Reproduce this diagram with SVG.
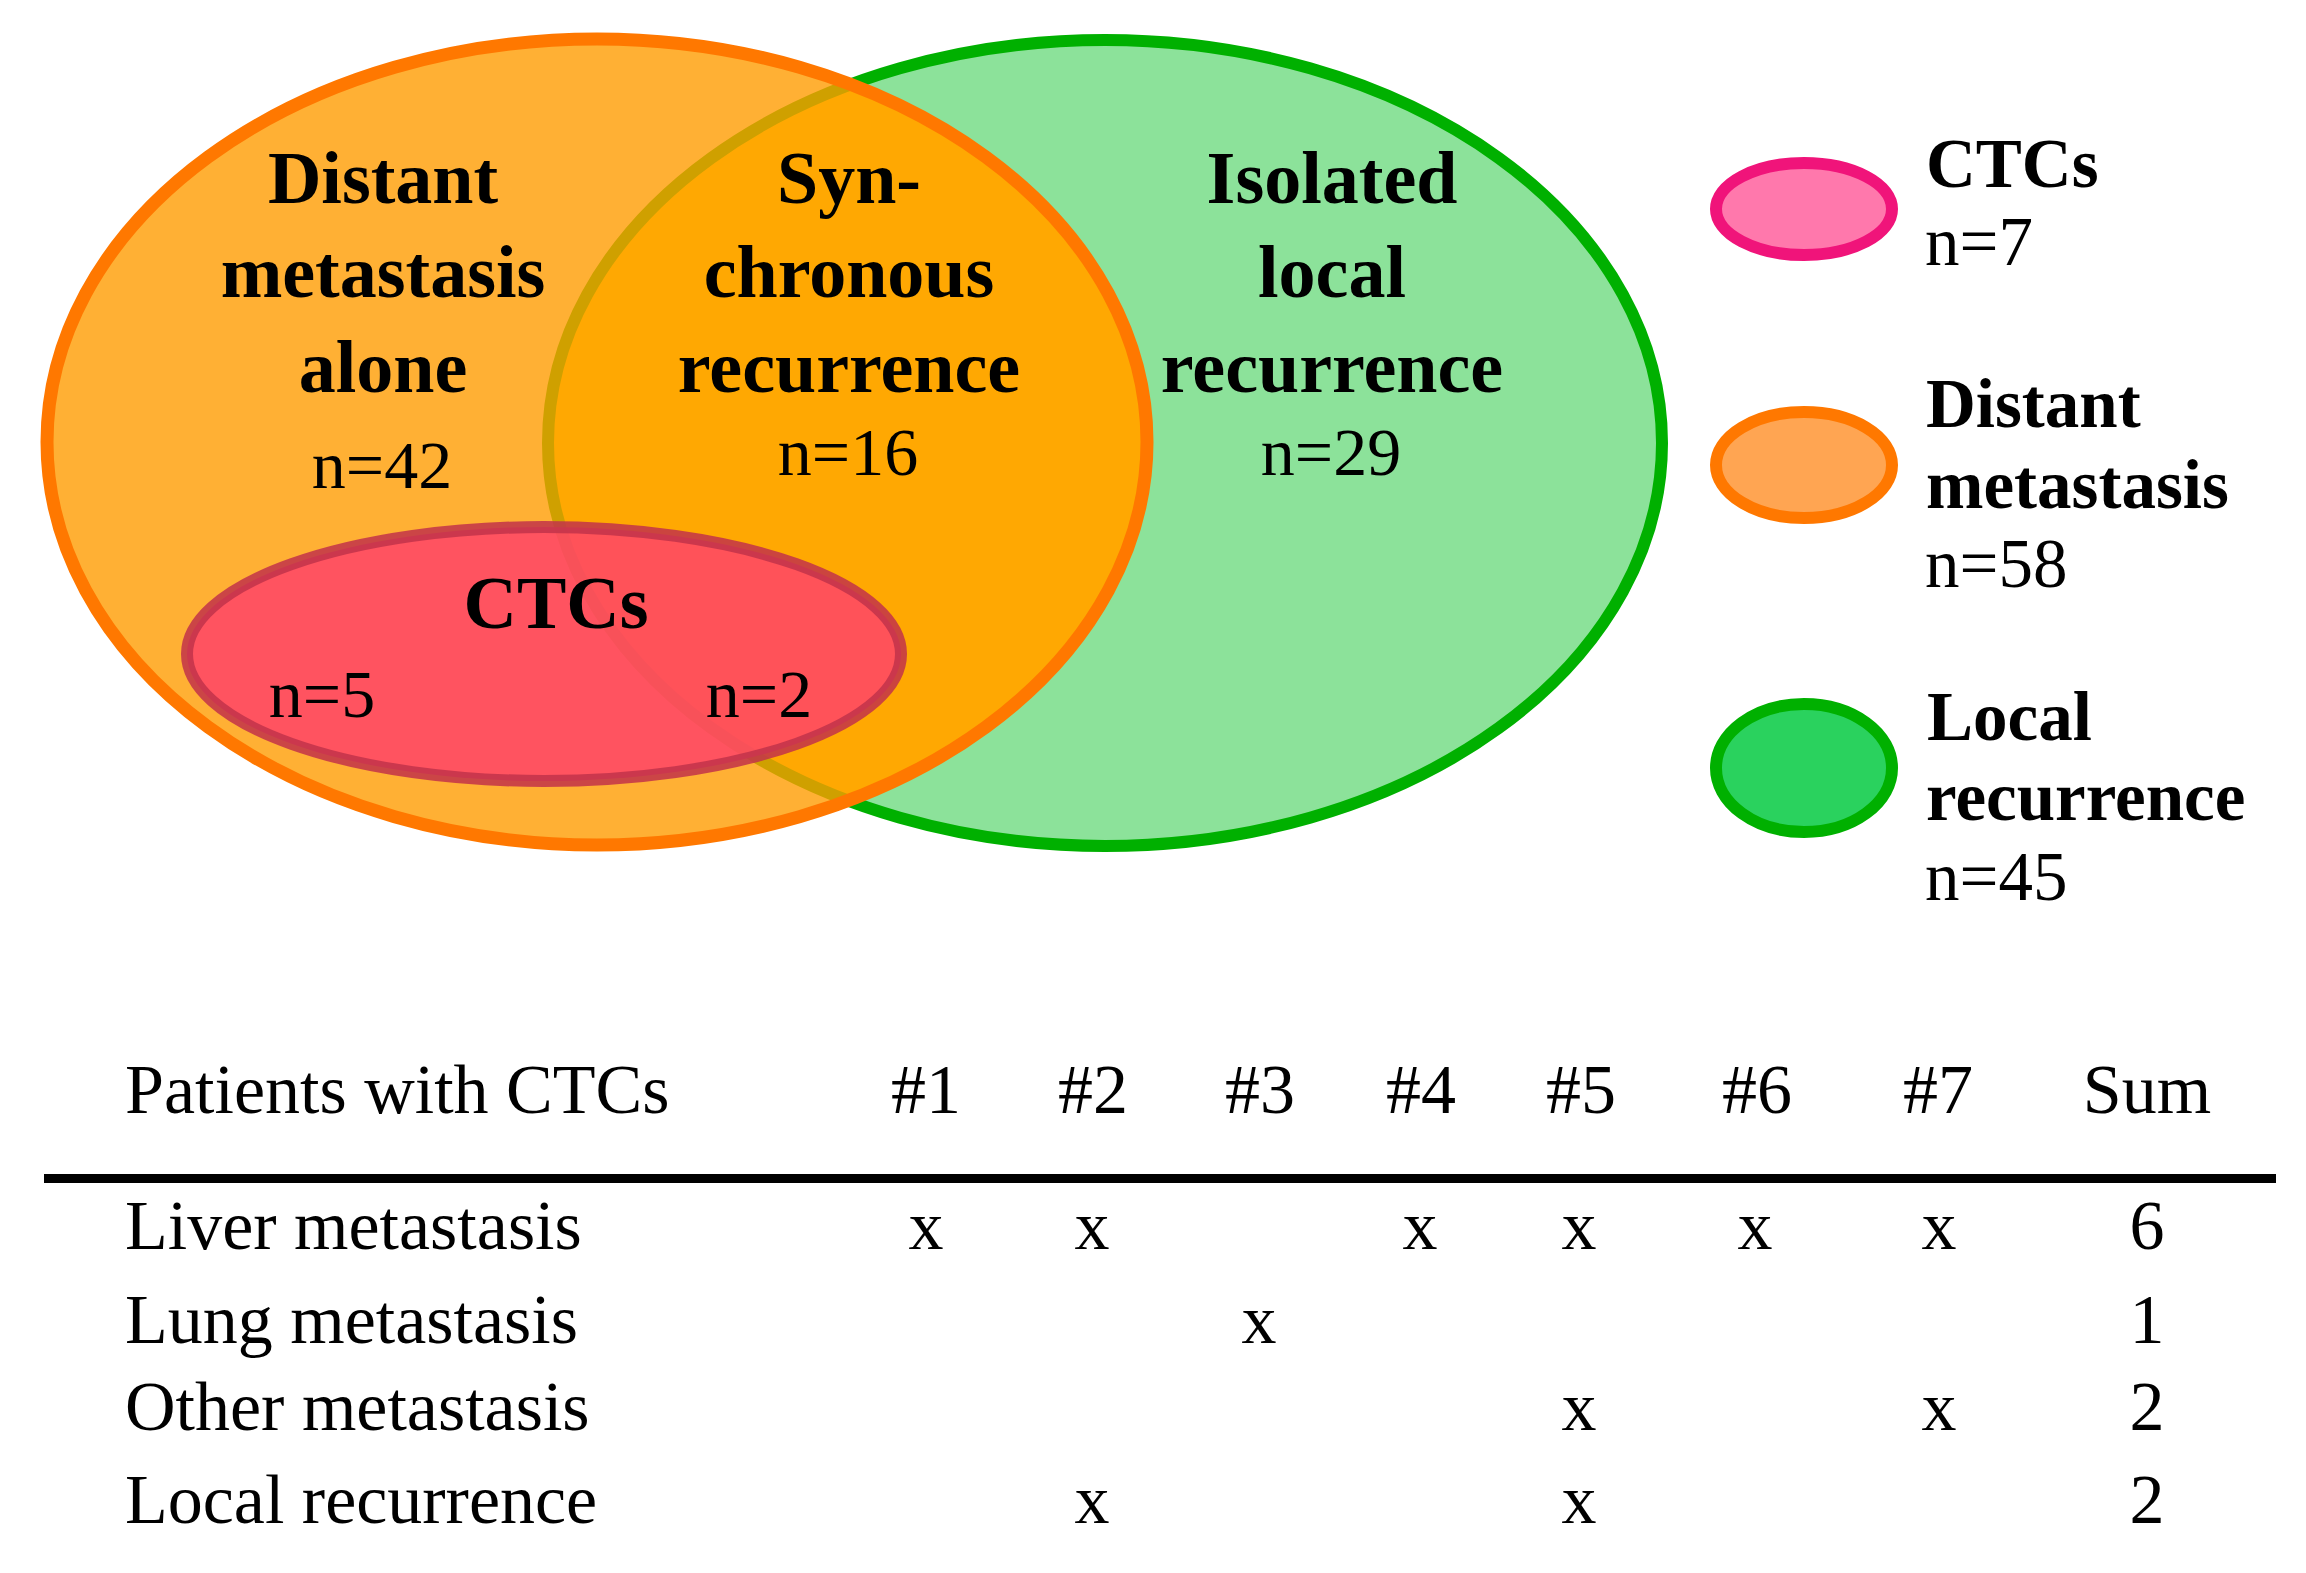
<svg xmlns="http://www.w3.org/2000/svg" width="2306" height="1573" viewBox="0 0 2306 1573">
<style>
text { font-family: "Liberation Serif", "Times New Roman", serif; fill: #000; }
.b { font-weight: bold; font-size: 74px; text-anchor: middle; }
.n { font-size: 68px; text-anchor: middle; }
.lb { font-weight: bold; font-size: 69px; }
.ln { font-size: 69px; }
.t { font-size: 70px; }
.tc { font-size: 70px; text-anchor: middle; }
</style>
<defs>
<clipPath id="orangeClip"><ellipse cx="597" cy="442" rx="550" ry="403"/></clipPath>
</defs>
<rect width="2306" height="1573" fill="#fff"/>
<g id="local-recurrence-set">
<ellipse cx="1105" cy="443" rx="557" ry="403" fill="#8CE29A" stroke="#00B000" stroke-width="12"/>
</g>
<g id="distant-metastasis-set">
<ellipse cx="597" cy="442" rx="550" ry="403" fill="#FFB034"/>
<g clip-path="url(#orangeClip)">
<ellipse cx="1105" cy="443" rx="557" ry="403" fill="#FFA802" stroke="#CFA000" stroke-width="12"/>
</g>
<ellipse cx="597" cy="442" rx="550" ry="403" fill="none" stroke="#FF7800" stroke-width="13"/>
</g>
<g id="ctcs-set">
<ellipse cx="544" cy="654" rx="357" ry="127" fill="#FF4468" fill-opacity="0.86" stroke="#C2334A" stroke-opacity="0.85" stroke-width="12"/>
</g>
<g id="label-distant-alone">
<text class="b" x="383" y="203">Distant</text>
<text class="b" x="383" y="297">metastasis</text>
<text class="b" x="383" y="392">alone</text>
<text class="n" x="382" y="488">n=42</text>
</g>
<g id="label-synchronous">
<text class="b" x="849" y="203">Syn-</text>
<text class="b" x="849" y="297">chronous</text>
<text class="b" x="849" y="392">recurrence</text>
<text class="n" x="848" y="475">n=16</text>
</g>
<g id="label-isolated">
<text class="b" x="1332" y="203">Isolated</text>
<text class="b" x="1332" y="297">local</text>
<text class="b" x="1332" y="392">recurrence</text>
<text class="n" x="1331" y="475">n=29</text>
</g>
<g id="label-ctcs">
<text class="b" x="556" y="628">CTCs</text>
<text class="n" x="322" y="717">n=5</text>
<text class="n" x="759" y="717">n=2</text>
</g>
<g id="legend-ctcs">
<ellipse cx="1804" cy="209" rx="88" ry="46" fill="#FF78AC" stroke="#F0147A" stroke-width="12"/>
<text class="lb" x="1926" y="187">CTCs</text>
<text class="ln" x="1925" y="265">n=7</text>
</g>
<g id="legend-distant">
<ellipse cx="1804" cy="465" rx="88" ry="53" fill="#FFA552" stroke="#FF7800" stroke-width="12"/>
<text class="lb" x="1926" y="427">Distant</text>
<text class="lb" x="1926" y="508">metastasis</text>
<text class="ln" x="1925" y="587">n=58</text>
</g>
<g id="legend-local">
<ellipse cx="1804" cy="768" rx="88" ry="64" fill="#2AD25E" stroke="#00B000" stroke-width="12"/>
<text class="lb" x="1927" y="740">Local</text>
<text class="lb" x="1926" y="820">recurrence</text>
<text class="ln" x="1925" y="900">n=45</text>
</g>
<g id="table">
<text class="t" x="125" y="1113">Patients with CTCs</text>
<text class="tc" x="926" y="1113">#1</text>
<text class="tc" x="1093" y="1113">#2</text>
<text class="tc" x="1260" y="1113">#3</text>
<text class="tc" x="1421" y="1113">#4</text>
<text class="tc" x="1581" y="1113">#5</text>
<text class="tc" x="1757" y="1113">#6</text>
<text class="tc" x="1938" y="1113">#7</text>
<text class="tc" x="2147" y="1113">Sum</text>
<rect x="44" y="1174" width="2232" height="9" fill="#000"/>
<text class="t" x="125" y="1249">Liver metastasis</text>
<text class="tc" x="926" y="1249">x</text>
<text class="tc" x="1092" y="1249">x</text>
<text class="tc" x="1420" y="1249">x</text>
<text class="tc" x="1579" y="1249">x</text>
<text class="tc" x="1755" y="1249">x</text>
<text class="tc" x="1939" y="1249">x</text>
<text class="tc" x="2147" y="1249">6</text>
<text class="t" x="125" y="1343">Lung metastasis</text>
<text class="tc" x="1259" y="1343">x</text>
<text class="tc" x="2147" y="1343">1</text>
<text class="t" x="125" y="1430">Other metastasis</text>
<text class="tc" x="1579" y="1430">x</text>
<text class="tc" x="1939" y="1430">x</text>
<text class="tc" x="2147" y="1430">2</text>
<text class="t" x="125" y="1523">Local recurrence</text>
<text class="tc" x="1092" y="1523">x</text>
<text class="tc" x="1579" y="1523">x</text>
<text class="tc" x="2147" y="1523">2</text>
</g>
</svg>
